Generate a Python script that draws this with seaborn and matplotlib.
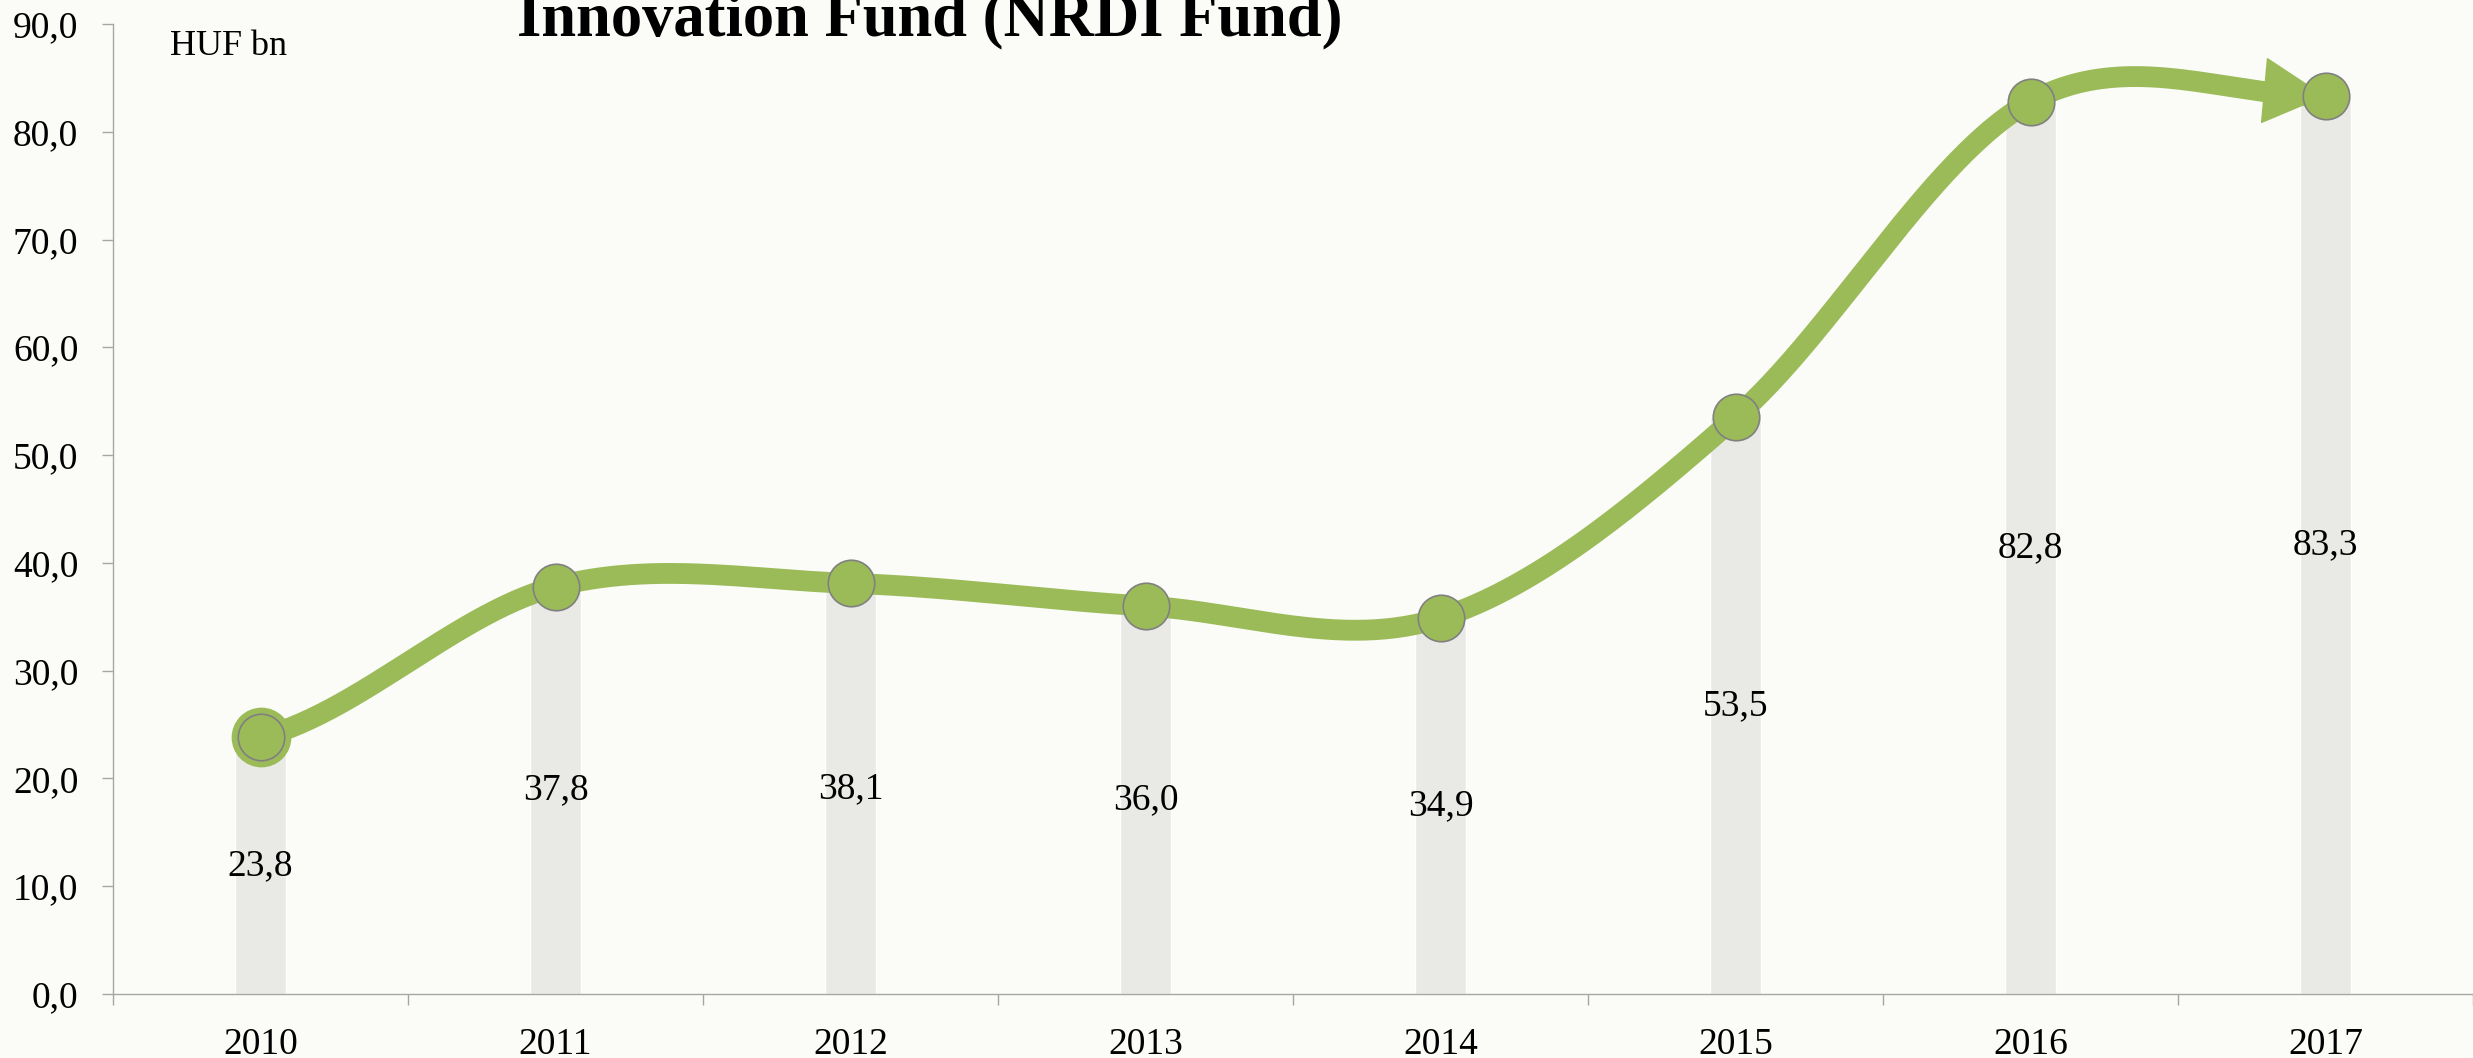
import numpy as np
import matplotlib
matplotlib.use("Agg")
import matplotlib.pyplot as plt
import seaborn as sns
from matplotlib.patches import FancyArrowPatch
from matplotlib.ticker import FuncFormatter, FixedLocator

# data (HUF bn)
years = ["2010", "2011", "2012", "2013", "2014", "2015", "2016", "2017"]
values = [23.8, 37.8, 38.1, 36.0, 34.9, 53.5, 82.8, 83.3]
value_labels = ["23,8", "37,8", "38,1", "36,0", "34,9", "53,5", "82,8", "83,3"]
title = "Innovation Fund (NRDI Fund)"
unit = "HUF bn"

green = "#9BBB59"
bar_grey = "#E9EAE5"
bg = "#FBFCF7"
axis_grey = "#A6A6A6"

sns.set_style("white")
plt.rcParams["font.family"] = ["Liberation Serif", "DejaVu Serif"]
plt.rcParams["text.color"] = "black"

fig = plt.figure(figsize=(24.73, 10.58), dpi=100)
fig.patch.set_facecolor(bg)
ax = fig.add_axes([113 / 2473, 64 / 1058, 1 - 113 / 2473, 970 / 1058])
ax.set_facecolor(bg)

# grey bars
sns.barplot(x=years, y=values, color=bar_grey, width=0.172, saturation=1,
            ax=ax, zorder=1)
ax.bar_label(ax.containers[0], labels=value_labels, label_type="center",
             fontsize=27, color="black", zorder=5)

# smoothed line (cubic Hermite through the points, like the Excel smoothing)
pos = np.arange(len(values))
vals = np.array(values)
tang = np.empty_like(vals)
tang[1:-1] = (vals[2:] - vals[:-2]) / 2
tang[0] = (vals[1] - vals[0]) / 2
tang[-1] = (vals[-1] - vals[-2]) / 2


def seg(i, t):
    h00 = 2 * t**3 - 3 * t**2 + 1
    h10 = t**3 - 2 * t**2 + t
    h01 = -2 * t**3 + 3 * t**2
    h11 = t**3 - t**2
    return h00 * vals[i] + h10 * tang[i] + h01 * vals[i + 1] + h11 * tang[i + 1]


tt = np.linspace(0, 1, 60)
cx = np.concatenate([pos[i] + tt for i in range(len(vals) - 1)])
cy = np.concatenate([seg(i, tt) for i in range(len(vals) - 1)])
ax.plot(cx, cy, color=green, lw=15, solid_capstyle="butt", zorder=3)

# arrow head at the end of the line
ta = 0.72
arrow = FancyArrowPatch((pos[-2] + ta, seg(len(vals) - 2, ta)), (pos[-1], vals[-1]),
                        arrowstyle="-|>,head_length=43,head_width=23",
                        mutation_scale=1, color=green, lw=1,
                        shrinkA=0, shrinkB=0, zorder=3)
ax.add_patch(arrow)

# markers
sns.scatterplot(x=pos[:1], y=vals[:1], s=1850, color=green, edgecolor=green,
                linewidth=0, ax=ax, zorder=4)
sns.scatterplot(x=pos, y=vals, s=1120, color=green, edgecolor="#808080",
                linewidth=1.2, ax=ax, zorder=4)

# axes
ax.set_xlim(-0.5, 7.5)
ax.set_ylim(0, 90)
ax.set_yticks(np.arange(0, 91, 10))
ax.yaxis.set_major_formatter(FuncFormatter(lambda v, p: f"{v:.1f}".replace(".", ",")))
ax.xaxis.set_minor_locator(FixedLocator(np.arange(-0.5, 8, 1)))
ax.tick_params(axis="x", which="major", length=0, pad=24, labelsize=27,
               labelcolor="black")
ax.tick_params(axis="x", which="minor", length=8, width=1, color=axis_grey,
               direction="out", bottom=True)
ax.tick_params(axis="y", length=8, width=1, color=axis_grey, pad=17,
               labelsize=27, left=True, labelcolor="black")
ax.set_xlabel("")
ax.set_ylabel("")
for side in ["top", "right"]:
    ax.spines[side].set_visible(False)
for side in ["left", "bottom"]:
    ax.spines[side].set_color(axis_grey)
    ax.spines[side].set_linewidth(1)

fig.text(170 / 2473, 1 - 55 / 1058, unit, fontsize=26, color="black",
         ha="left", va="baseline")
fig.text(930 / 2473, 1 - 35 / 1058, title, fontsize=45, fontweight="bold",
         color="black", ha="center", va="baseline")

fig.savefig("out.png", dpi=100, facecolor=bg)
